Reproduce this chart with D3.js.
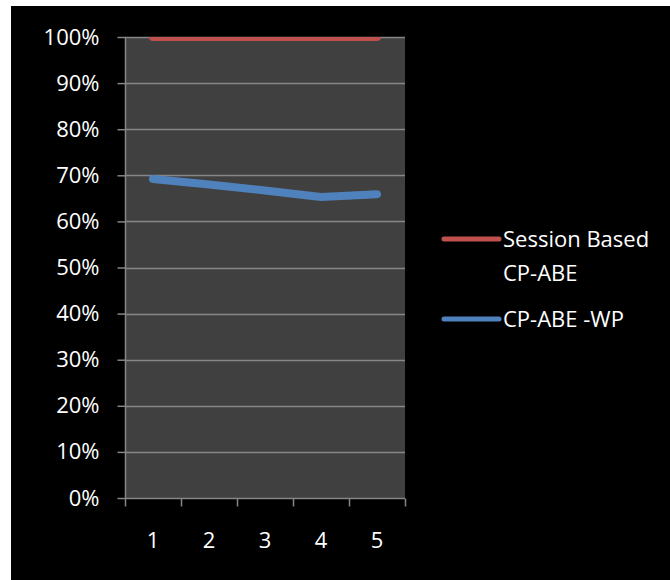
<!DOCTYPE html>
<html>
<head>
<meta charset="utf-8">
<script src="https://cdn.jsdelivr.net/npm/d3@7/dist/d3.min.js"></script>
<style>
  html, body { margin: 0; padding: 0; background: #ffffff; }
  svg { display: block; }
  text { font-family: "Open Sans", Lato, sans-serif; fill: #ffffff; }
</style>
</head>
<body>
<svg id="chart" width="670" height="580"></svg>
<script>
// Runs 1..5 along the x axis
const categories = [1, 2, 3, 4, 5];
// Share of successful access for each scheme (fraction of 1)
const sessionBased = [1.0, 1.0, 1.0, 1.0, 1.0];
const cpAbeWp = [0.692, 0.680, 0.667, 0.653, 0.659];
const yTicks = [0, 0.1, 0.2, 0.3, 0.4, 0.5, 0.6, 0.7, 0.8, 0.9, 1.0];

const series = [
  { name: ["Session Based", "CP-ABE"], values: sessionBased, color: "#c0504d", width: 8 },
  { name: ["CP-ABE -WP"], values: cpAbeWp, color: "#4f81bd", width: 8 }
];

const FONT = "'Open Sans', Lato, sans-serif";
const FONT_SIZE = "22px";

const svg = d3.select("#chart");

// black chart background inside a thin white margin
svg.append("rect").attr("x", 11).attr("y", 6).attr("width", 659).attr("height", 574).attr("fill", "#000");

const plot = { left: 125, top: 37, right: 405, bottom: 498 };

const x = d3.scaleBand().domain(categories).range([plot.left, plot.right]);
const y = d3.scaleLinear().domain([0, 1]).range([plot.bottom, plot.top]);

svg.append("rect")
  .attr("x", plot.left).attr("y", plot.top)
  .attr("width", plot.right - plot.left).attr("height", plot.bottom - plot.top)
  .attr("fill", "#404040");

// horizontal gridlines
svg.append("g").selectAll("line").data(yTicks.filter(d => d > 0)).join("line")
  .attr("x1", plot.left).attr("x2", plot.right)
  .attr("y1", d => Math.round(y(d)) + 0.5).attr("y2", d => Math.round(y(d)) + 0.5)
  .attr("stroke", "#868686").attr("stroke-width", 1.5);

// y axis
const yAxis = svg.append("g").attr("transform", `translate(${plot.left + 0.5},0)`)
  .call(d3.axisLeft(y).tickValues(yTicks).tickFormat(d3.format(".0%")).tickSize(8).tickPadding(18));
yAxis.select(".domain").attr("stroke", "#868686").attr("stroke-width", 1.5).attr("d", `M0,${plot.top}V${plot.bottom}`);
yAxis.selectAll(".tick line").attr("stroke", "#868686").attr("stroke-width", 1.5);
yAxis.selectAll(".tick text").attr("fill", "#fff").style("font-size", FONT_SIZE).style("font-family", FONT);

// x axis with tick marks at band boundaries
const xAxis = svg.append("g").attr("transform", `translate(0,${plot.bottom + 0.5})`)
  .call(d3.axisBottom(x).tickSize(0).tickPadding(34));
xAxis.select(".domain").attr("stroke", "#868686").attr("stroke-width", 1.5).attr("d", `M${plot.left},0H${plot.right}`);
xAxis.selectAll(".tick text").attr("fill", "#fff").style("font-size", FONT_SIZE).style("font-family", FONT);
const bounds = categories.map(c => x(c)).concat([x(categories[categories.length - 1]) + x.bandwidth()]);
xAxis.append("g").selectAll("line").data(bounds).join("line")
  .attr("x1", d => d + 0.5).attr("x2", d => d + 0.5).attr("y1", 0).attr("y2", 8)
  .attr("stroke", "#868686").attr("stroke-width", 1.5);

// lines, clipped to the plot area
svg.append("clipPath").attr("id", "plotclip").append("rect")
  .attr("x", plot.left).attr("y", plot.top)
  .attr("width", plot.right - plot.left).attr("height", plot.bottom - plot.top);

const line = d3.line()
  .x((d, i) => x(categories[i]) + x.bandwidth() / 2)
  .y(d => y(d));

svg.append("g").attr("clip-path", "url(#plotclip)").selectAll("path").data(series).join("path")
  .attr("d", s => line(s.values))
  .attr("fill", "none")
  .attr("stroke", s => s.color)
  .attr("stroke-width", s => s.width)
  .attr("stroke-linecap", "round")
  .attr("stroke-linejoin", "round");

// legend
const legendY = [239, 319];
const legend = svg.append("g").selectAll("g").data(series).join("g")
  .attr("transform", (s, i) => `translate(444,${legendY[i]})`);
legend.append("line")
  .attr("x1", 0).attr("x2", 55).attr("y1", 0).attr("y2", 0)
  .attr("stroke", s => s.color).attr("stroke-width", 5).attr("stroke-linecap", "round");
legend.append("text")
  .attr("x", 59).attr("y", 0)
  .style("font-size", FONT_SIZE)
  .selectAll("tspan").data(s => s.name).join("tspan")
  .attr("x", 59).attr("dy", (d, i) => i === 0 ? "0.35em" : "1.55em")
  .text(d => d);
</script>
</body>
</html>
